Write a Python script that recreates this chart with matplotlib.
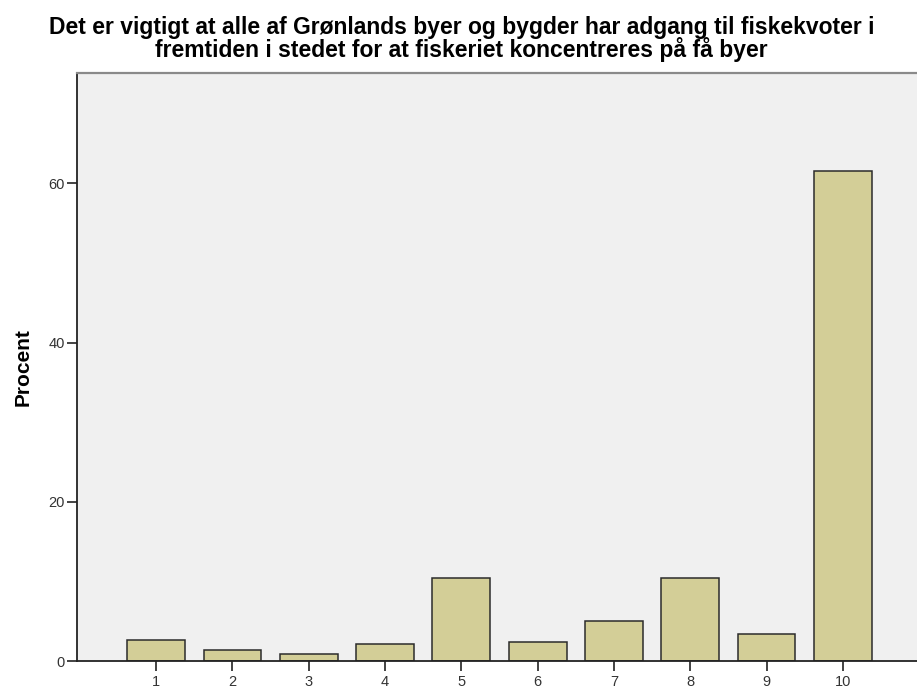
import matplotlib.pyplot as plt

categories = ["1", "2", "3", "4", "5", "6", "7", "8", "9", "10"]
percent = [2.64, 1.38, 0.84, 2.17, 10.43, 2.35, 4.99, 10.4, 3.35, 61.56]

title = ("Det er vigtigt at alle af Grønlands byer og bygder har adgang til fiskekvoter i\n"
         "fremtiden i stedet for at fiskeriet koncentreres på få byer")

plt.rcParams["font.family"] = ["Liberation Sans", "DejaVu Sans"]

fig = plt.figure(figsize=(9.17, 6.88), dpi=100)
ax = fig.add_axes([0.084, 0.0392, 0.916, 0.854])
ax.set_facecolor("#f0f0f0")

pos = list(range(1, len(categories) + 1))
ax.bar(pos, percent, width=0.756, color="#d3ce97", edgecolor="#2b2b2b", linewidth=1.1, zorder=2)

ax.set_xlim(-0.035, 10.97)
ax.set_ylim(0, 73.8)
ax.set_xticks(pos)
ax.set_xticklabels(categories)
ax.set_yticks([0, 20, 40, 60])

ax.tick_params(axis="both", direction="out", length=7, width=1.2, color="#222222",
               labelsize=10.5, labelcolor="#333333")
ax.tick_params(axis="x", pad=3)
ax.tick_params(axis="y", pad=2)

for side in ["left", "bottom"]:
    ax.spines[side].set_color("#222222")
    ax.spines[side].set_linewidth(1.3)
ax.spines["top"].set_color("#8a8a8a")
ax.spines["top"].set_linewidth(1.6)
ax.spines["right"].set_visible(False)

ax.set_ylabel("Procent", fontsize=15, fontweight="bold", labelpad=11)
fig.text(0.503, 0.977, title, ha="center", va="top", fontsize=16.5, fontweight="bold",
         linespacing=0.9)

fig.savefig("out.png", dpi=100)
